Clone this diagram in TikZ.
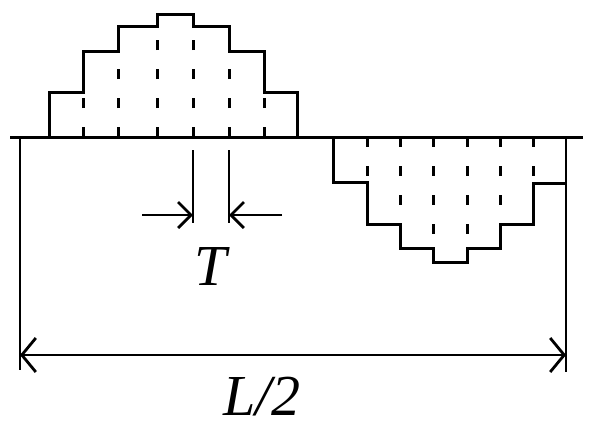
\documentclass[tikz,border=0pt]{standalone}
\usepackage{fontspec}
\setmainfont{Liberation Serif}
\usepackage{tikz}
\usetikzlibrary{arrows.meta,positioning,calc}
\tikzset{
  outline/.style ={line width=3pt, line join=miter},
  divline/.style ={line width=3pt, dash pattern=on 10pt off 19pt},
  extline/.style ={line width=2.8pt},
  dimarr/.style  ={line width=2.8pt,
                   {Straight Barb[length=14pt,width=34pt]}-{Straight Barb[length=14pt,width=34pt]}},
  tarr/.style    ={line width=2.8pt, -{Straight Barb[length=13pt,width=26pt]}},
  dimlabel/.style={font=\fontsize{58}{60}\selectfont\itshape, inner sep=0pt, anchor=base},
}
\begin{document}
\begin{tikzpicture}[x=1pt,y=-1pt]
  \useasboundingbox (0,0) rectangle (591,426);
  % base line and the two stepped blocks
  \draw[outline] (10,137) -- (583,137);
  \draw[outline] (49,137) |- (83,92) |- (118,51) |- (157,26) |- (193,14)
    |- (229,26) |- (264,51) |- (297,92) -- (297,137);
  \draw[outline] (333,137) |- (367,182) |- (400,224) |- (433,248) |- (467,262)
    |- (500,248) |- (533,224) |- (566,183);
  \foreach \x/\t in {83/92,118/51,157/26,193/26,229/51,264/92}
    \draw[divline] (\x,137) -- (\x,\t);
  \foreach \x/\t in {367/182,400/224,433/248,467/248,500/224,533/183}
    \draw[divline] (\x,137) -- (\x,\t);
  % dimension T
  \coordinate (ta) at (193,215);
  \coordinate (tb) at (229,215);
  \draw[extline] (193,150) -- (193,223);
  \draw[extline] (229,150) -- (229,223);
  \draw[tarr] (142,215) -- (ta);
  \draw[tarr] (282,215) -- (tb);
  \node[dimlabel] (tlabel) at (211,285) {T};
  % dimension L/2
  \coordinate (la) at (20,355);
  \coordinate (lb) at (566,355);
  \draw[extline] (20,137) -- (20,370);
  \draw[extline] (566,137) -- (566,372);
  \draw[dimarr] (la) -- (lb);
  \node[dimlabel] (llabel) at (262,415) {L/2};
\end{tikzpicture}
\end{document}
